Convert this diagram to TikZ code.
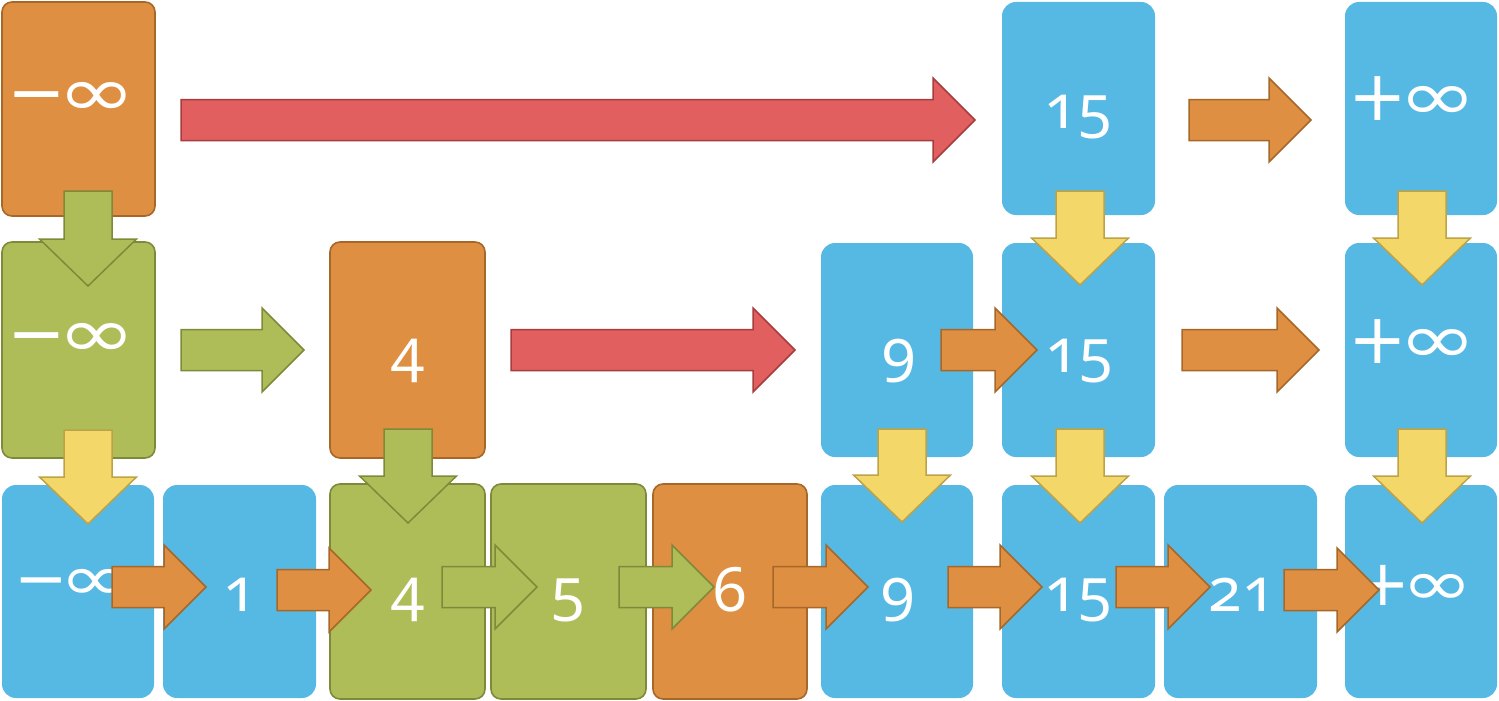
\documentclass[tikz,border=0pt]{standalone}
\usepackage{fontspec}
\setmainfont{Noto Sans}[Numbers=OldStyle]
\newfontfamily\symf{DejaVu Sans}
\usetikzlibrary{fit,calc}
\definecolor{cblue}{RGB}{86,185,228}
\definecolor{corange}{RGB}{223,143,65}
\definecolor{corangeD}{RGB}{166,103,40}
\definecolor{cgreen}{RGB}{175,189,89}
\definecolor{cgreenD}{RGB}{126,138,58}
\definecolor{cyellow}{RGB}{243,215,105}
\definecolor{cyellowD}{RGB}{190,162,70}
\definecolor{cred}{RGB}{225,95,95}
\definecolor{credD}{RGB}{168,60,60}
\newcommand\infglyph{\kern-8pt\scalebox{1.35}[1]{∞}}
\tikzset{
  boxbase/.style={inner sep=0pt, outer sep=0pt},
  bluebox/.style={boxbase, fill=cblue, rounded corners=14pt},
  orangebox/.style={boxbase, fill=corange, draw=corangeD, line width=1.6pt, rounded corners=10pt},
  greenbox/.style={boxbase, fill=cgreen, draw=cgreenD, line width=1.6pt, rounded corners=10pt},
  numlab/.style={inner sep=0pt, anchor=base, text=white, font=\fontsize{61}{63}\selectfont},
  inflab/.style={inner sep=0pt, anchor=center, text=white, font=\symf\fontsize{70}{72}\selectfont},
  inflabs/.style={inflab, font=\symf\fontsize{64}{66}\selectfont},
  orangearr/.style={fill=corange, draw=corangeD, line width=1.5pt},
  greenarr/.style={fill=cgreen, draw=cgreenD, line width=1.5pt},
  yellowarr/.style={fill=cyellow, draw=cyellowD, line width=1.5pt},
  redarr/.style={fill=cred, draw=credD, line width=1.5pt},
}
% horizontal block arrow: style, tail coordinate, tip coordinate
\newcommand\blockR[3]{\draw[#1] let \p1=(#2), \p2=(#3) in
  (\x1,\y1+20.5pt) -- (\x2-42pt,\y1+20.5pt) -- (\x2-42pt,\y1+42pt) -- (\x2,\y1)
  -- (\x2-42pt,\y1-42pt) -- (\x2-42pt,\y1-20.5pt) -- (\x1,\y1-20.5pt) -- cycle;}
% downward block arrow
\newcommand\blockD[3]{\draw[#1] let \p1=(#2), \p2=(#3) in
  (\x1-24pt,\y1) -- (\x1+24pt,\y1) -- (\x1+24pt,\y2+47pt) -- (\x1+48.5pt,\y2+47pt)
  -- (\x1,\y2) -- (\x1-48.5pt,\y2+47pt) -- (\x1-24pt,\y2+47pt) -- cycle;}
\begin{document}
\begin{tikzpicture}[x=1pt,y=-1pt]
\useasboundingbox (0,0) rectangle (1499,701);
% ---------- boxes ----------
\node[orangebox, fit={(2,2)(155,216)}] (o1) {};
\node[bluebox, fit={(1002,2)(1155,215)}] (b15a) {};
\node[bluebox, fit={(1345,2)(1497,215)}] (bpa) {};
\node[greenbox, fit={(2,242)(155,458)}] (g2) {};
\node[orangebox, fit={(330,242)(485,458)}] (o4) {};
\node[bluebox, fit={(821,243)(973,457)}] (b9a) {};
\node[bluebox, fit={(1002,243)(1155,457)}] (b15b) {};
\node[bluebox, fit={(1345,243)(1497,457)}] (bpb) {};
\node[bluebox, fit={(2,485)(154,698)}] (bm) {};
\node[bluebox, fit={(163,485)(316,698)}] (b1) {};
\node[greenbox, fit={(330,484)(485,699)}] (g4) {};
\node[greenbox, fit={(491,484)(646,699)}] (g5) {};
\node[orangebox, fit={(653,484)(807,699)}] (o6) {};
\node[bluebox, fit={(821,485)(973,698)}] (b9b) {};
\node[bluebox, fit={(1002,485)(1155,698)}] (b15c) {};
\node[bluebox, fit={(1164,485)(1317,698)}] (b21) {};
\node[bluebox, fit={(1345,485)(1497,698)}] (bpc) {};
% ---------- labels ----------
\node[inflab] (lo1) at (72,99) {−\infglyph};
\node[numlab] (lb15a) at (1078,128) {15};
\node[inflab] (lbpa) at (1413,99) {+\infglyph};
\node[inflab] (lg2) at (72,340) {−\infglyph};
\node[numlab] (lo4) at (408,372) {4};
\node[numlab] (lb9a) at (899,372) {9};
\node[numlab] (lb15b) at (1079,372) {15};
\node[inflab] (lbpb) at (1413,342) {+\infglyph};
\node[inflabs] (lbm) at (73,585) {−\infglyph};
\node[numlab] (lb1) at (240,611) {1};
\node[numlab] (lg4) at (408,611) {4};
\node[numlab] (lg5) at (568,611) {5};
\node[numlab] (lo6) at (730,611) {6};
\node[numlab] (lb9b) at (898,611) {9};
\node[numlab] (lb15c) at (1078,611) {15};
\node[numlab] (lb21) at (1242,611) {21};
\node[inflabs] (lbpc) at (1415,585) {+\infglyph};
% ---------- arrow end points ----------
\coordinate (h1s) at (181,120);  \coordinate (h1e) at (975,120);
\coordinate (h2s) at (1189,120); \coordinate (h2e) at (1311,120);
\coordinate (h3s) at (181,350);  \coordinate (h3e) at (304,350);
\coordinate (h4s) at (511,350);  \coordinate (h4e) at (795,350);
\coordinate (h5s) at (941,350);  \coordinate (h5e) at (1037,350);
\coordinate (h6s) at (1182,350); \coordinate (h6e) at (1319,350);
\coordinate (k1s) at (112,587);  \coordinate (k1e) at (206,587);
\coordinate (k2s) at (277,590);  \coordinate (k2e) at (371,590);
\coordinate (k3s) at (442,587);  \coordinate (k3e) at (537,587);
\coordinate (k4s) at (619,587);  \coordinate (k4e) at (714,587);
\coordinate (k5s) at (773,587);  \coordinate (k5e) at (868,587);
\coordinate (k6s) at (948,587);  \coordinate (k6e) at (1042,587);
\coordinate (k7s) at (1116,587); \coordinate (k7e) at (1210,587);
\coordinate (k8s) at (1284,590); \coordinate (k8e) at (1379,590);
\coordinate (d1s) at (88,191);   \coordinate (d1e) at (88,286);
\coordinate (d2s) at (88,430);   \coordinate (d2e) at (88,524);
\coordinate (d3s) at (408,429);  \coordinate (d3e) at (408,523);
\coordinate (d4s) at (902,429);  \coordinate (d4e) at (902,522);
\coordinate (d5s) at (1080,191); \coordinate (d5e) at (1080,285);
\coordinate (d6s) at (1080,429); \coordinate (d6e) at (1080,523);
\coordinate (d7s) at (1422,191); \coordinate (d7e) at (1422,285);
\coordinate (d8s) at (1422,429); \coordinate (d8e) at (1422,523);
% ---------- arrows ----------
\blockR{redarr}{h1s}{h1e}
\blockR{orangearr}{h2s}{h2e}
\blockR{greenarr}{h3s}{h3e}
\blockR{redarr}{h4s}{h4e}
\blockR{orangearr}{h5s}{h5e}
\blockR{orangearr}{h6s}{h6e}
\blockR{orangearr}{k1s}{k1e}
\blockR{orangearr}{k2s}{k2e}
\blockR{greenarr}{k3s}{k3e}
\blockR{greenarr}{k4s}{k4e}
\blockR{orangearr}{k5s}{k5e}
\blockR{orangearr}{k6s}{k6e}
\blockR{orangearr}{k7s}{k7e}
\blockR{orangearr}{k8s}{k8e}
\blockD{greenarr}{d1s}{d1e}
\blockD{yellowarr}{d2s}{d2e}
\blockD{greenarr}{d3s}{d3e}
\blockD{yellowarr}{d4s}{d4e}
\blockD{yellowarr}{d5s}{d5e}
\blockD{yellowarr}{d6s}{d6e}
\blockD{yellowarr}{d7s}{d7e}
\blockD{yellowarr}{d8s}{d8e}
\end{tikzpicture}
\end{document}
